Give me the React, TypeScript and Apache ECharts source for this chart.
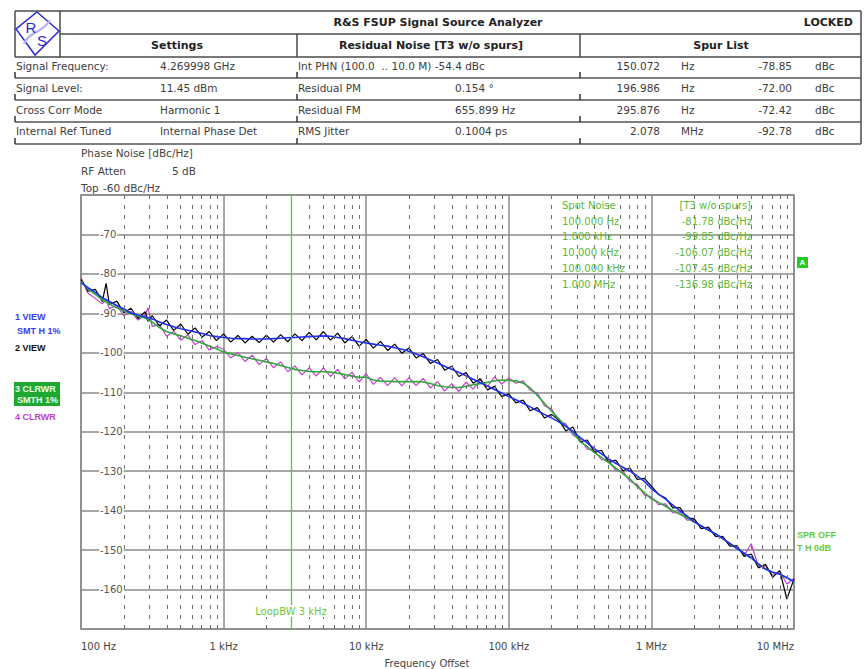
import React, { useEffect, useRef } from 'react';
import * as echarts from 'echarts';

// ---------- trace data ----------
// Frequency grid of the smoothed traces (Hz)
const freqSmooth = [
  100, 112, 126, 141, 158, 178, 200, 224, 251, 282, 316, 355, 398, 447, 501, 562, 631, 708, 794, 891,
  1000, 1122, 1259, 1413, 1585, 1778, 1995, 2239, 2512, 2818, 3162, 3548, 3981, 4467, 5012, 5623, 6310, 7079, 7943, 8913,
  10000, 11220, 12590, 14130, 15850, 17780, 19950, 22390, 25120, 28180, 31620, 35480, 39810, 44670, 50120, 56230, 63100, 70790, 79430, 89130,
  100000, 112200, 125900, 141300, 158500, 177800, 199500, 223900, 251200, 281800, 316200, 354800, 398100, 446700, 501200, 562300, 631000, 707900, 794300, 891300,
  1000000, 1122000, 1259000, 1413000, 1585000, 1778000, 1995000, 2239000, 2512000, 2818000, 3162000, 3548000, 3981000, 4467000, 5012000, 5623000, 6310000, 7079000, 7943000, 8913000, 10000000,
];

// Frequency grid of the raw traces (includes the spur frequencies)
const freqRaw = [
  100, 112, 126, 141, 150, 158, 178, 200, 224, 251, 282, 295, 316, 355, 398, 447, 501, 562, 631, 708, 794, 891,
  1000, 1122, 1259, 1413, 1585, 1778, 1995, 2239, 2512, 2818, 3162, 3548, 3981, 4467, 5012, 5623, 6310, 7079, 7943, 8913,
  10000, 11220, 12590, 14130, 15850, 17780, 19950, 22390, 25120, 28180, 31620, 35480, 39810, 44670, 50120, 56230, 63100, 70790, 79430, 89130,
  100000, 112200, 125900, 141300, 158500, 177800, 199500, 223900, 251200, 281800, 316200, 354800, 398100, 446700, 501200, 562300, 631000, 707900, 794300, 891300,
  1000000, 1122000, 1259000, 1413000, 1585000, 1778000, 1995000, 2239000, 2512000, 2818000, 3162000, 3548000, 3981000, 4467000, 5012000, 5623000, 6310000, 7079000, 7943000, 8913000, 10000000,
];

// Trace 1: VIEW, smoothed 1 %
const trace1 = [
  -82.2, -83.5, -84.7, -86.0, -87.0, -88.0, -88.9, -89.9, -90.4, -90.9, -91.4, -92.2, -92.8, -93.4, -93.9, -94.3, -94.7, -95.1, -95.6, -95.9,
  -96.1, -96.3, -96.4, -96.4, -96.5, -96.5, -96.5, -96.4, -96.3, -96.2, -96.1, -96.0, -95.9, -95.8, -95.7, -95.8, -96.1, -96.4, -96.8, -97.2,
  -97.5, -97.8, -98.1, -98.3, -98.7, -99.1, -99.6, -100.3, -101.0, -101.8, -102.6, -103.4, -104.2, -105.0, -105.8, -106.7, -107.6, -108.4, -109.3, -110.2,
  -111.1, -111.9, -112.8, -113.7, -114.7, -115.6, -116.5, -117.5, -118.6, -119.9, -121.5, -122.8, -124.3, -125.6, -126.9, -128.0, -129.0, -130.0, -131.2, -132.6,
  -134.4, -135.8, -137.1, -138.6, -140.0, -141.4, -142.8, -143.9, -144.9, -145.9, -147.1, -148.3, -149.6, -150.8, -152.0, -153.5, -154.8, -155.6, -156.1, -157.0, -158.0,
];

// Trace 2: VIEW, raw
const trace2 = [
  -81.4, -84.4, -83.9, -87.0, -82.4, -87.8, -86.9, -89.8, -88.7, -91.3, -89.6, -92.0, -90.6, -93.2, -91.7, -94.3, -92.7, -95.3, -93.7, -96.0, -94.6, -96.9,
  -95.2, -97.3, -95.6, -97.5, -95.8, -97.4, -95.5, -97.3, -95.4, -97.2, -95.2, -96.9, -94.8, -96.7, -94.6, -96.8, -95.0, -97.5, -95.9, -98.3,
  -96.6, -98.8, -97.1, -99.4, -97.8, -100.1, -98.8, -101.3, -100.2, -102.7, -101.7, -104.4, -103.4, -106.0, -105.0, -107.7, -106.6, -109.4, -108.5, -111.1,
  -110.4, -112.7, -112.0, -114.7, -113.9, -116.5, -115.6, -117.0, -119.8, -118.8, -122.6, -122.1, -125.2, -124.7, -127.8, -127.2, -129.9, -129.2, -132.1, -131.8,
  -133.8, -135.9, -136.8, -139.3, -139.2, -141.9, -142.0, -144.6, -144.2, -146.5, -146.6, -149.0, -148.9, -151.6, -151.0, -154.5, -153.6, -156.9, -155.2, -162.4, -157.3,
];

// Trace 3: CLRWR, smoothed 1 %
const trace3 = [
  -81.9, -83.8, -85.2, -86.6, -87.6, -88.6, -89.4, -90.1, -90.7, -91.2, -92.2, -93.6, -94.6, -95.2, -95.7, -96.3, -96.9, -97.6, -98.3, -99.0,
  -99.8, -100.2, -100.7, -101.1, -101.5, -101.9, -102.3, -102.7, -103.2, -103.7, -104.2, -104.5, -104.7, -104.8, -104.8, -104.9, -105.2, -105.5, -105.9, -106.2,
  -106.2, -106.9, -107.2, -107.2, -107.3, -107.3, -107.3, -107.3, -107.4, -107.8, -108.3, -108.6, -108.8, -108.8, -108.5, -108.1, -107.8, -107.5, -107.1, -106.9,
  -107.0, -107.1, -107.7, -108.9, -110.8, -112.8, -114.8, -116.7, -118.6, -120.2, -122.5, -123.8, -125.3, -126.5, -127.8, -129.2, -130.6, -132.0, -133.9, -135.4,
  -137.0, -137.9, -138.9, -140.0, -140.9, -141.8, -142.9, -143.9, -144.9, -145.9, -147.1, -148.3, -149.6, -150.8, -152.0, -153.5, -154.8, -155.6, -156.1, -157.0, -158.0,
];

// Trace 4: CLRWR, raw
const trace4 = [
  -80.9, -84.9, -86.2, -87.6, -86.4, -88.8, -88.0, -90.6, -89.5, -91.7, -90.4, -88.6, -93.3, -92.8, -95.8, -94.5, -96.8, -95.5, -97.9, -96.9, -99.3, -98.4,
  -99.1, -101.3, -99.9, -102.2, -100.6, -103.0, -101.4, -103.8, -102.3, -104.8, -103.3, -105.6, -103.8, -105.9, -103.8, -106.0, -104.2, -106.6, -104.9, -107.4,
  -105.3, -108.0, -106.2, -108.3, -106.3, -108.4, -106.3, -108.3, -106.5, -108.9, -107.3, -109.7, -107.8, -109.8, -107.4, -109.2, -106.8, -108.6, -106.1, -107.9,
  -106.4, -107.7, -107.1, -109.5, -110.2, -113.4, -114.2, -117.3, -118.0, -120.8, -121.9, -124.4, -124.7, -127.1, -127.2, -129.8, -130.0, -132.6, -133.3, -136.0,
  -136.5, -138.5, -138.3, -140.6, -140.3, -142.4, -142.3, -144.5, -144.3, -146.5, -146.5, -148.9, -149.0, -151.4, -148.4, -154.1, -154.0, -156.4, -155.3, -158.6, -157.2,
];

// ---------- axes ----------
const xTickValues = [100, 1000, 10000, 100000, 1000000, 10000000];
const xTickLabels = ['100 Hz', '1 kHz', '10 kHz', '100 kHz', '1 MHz', '10 MHz'];
const minorDecades = [100, 1000, 10000, 100000, 1000000];
const minorMantissas = [2, 3, 4, 5, 6, 7, 8, 9];
const loopBandwidth = 3000;

// ---------- header table ----------
const settingsLabels = ['Signal Frequency:', 'Signal Level:', 'Cross Corr Mode', 'Internal Ref Tuned'];
const settingsValues = ['4.269998 GHz', '11.45 dBm', 'Harmonic 1', 'Internal Phase Det'];
const residualLabels = ['Int PHN (100.0  .. 10.0 M) -54.4 dBc', 'Residual PM', 'Residual FM', 'RMS Jitter'];
const residualValues = ['', '0.154 °', '655.899 Hz', '0.1004 ps'];
const spurFreqs = ['150.072', '196.986', '295.876', '2.078'];
const spurUnits = ['Hz', 'Hz', 'Hz', 'MHz'];
const spurLevels = [-78.85, -72.0, -72.42, -92.78];

// ---------- spot noise ----------
const spotFreqs = ['100.000 Hz', '1.000 kHz', '10.000 kHz', '100.000 kHz', '1.000 MHz'];
const spotLevels = [-81.78, -99.85, -106.07, -107.45, -136.98];

const FONT = "'DejaVu Sans', Verdana, sans-serif";
const NARROW = "'Liberation Sans', Arial, sans-serif";
const SPOT_GREEN = '#5cb83a';

function txt(x: number, y: number, text: string, fill: string, font: string, align = 'left', extra: any = {}) {
  return {
    type: 'text',
    x,
    y,
    silent: true,
    z: 100,
    style: { text, fill, font, textAlign: align, textVerticalAlign: 'middle', align, verticalAlign: 'middle', ...extra },
  };
}

function ln(x1: number, y1: number, x2: number, y2: number, stroke = '#4a4a4a', lineWidth = 1.5) {
  return { type: 'line', silent: true, z: 100, shape: { x1, y1, x2, y2 }, style: { stroke, lineWidth } };
}

function buildHeader() {
  const els: any[] = [];
  const rowBottoms = [78, 100, 122, 144];
  const rowMid = [66, 88, 110, 131];
  // frame
  els.push(ln(15, 11, 861, 11));
  els.push(ln(861, 11, 861, 144));
  els.push(ln(15, 11, 15, 57));
  els.push(ln(60, 11, 60, 57));
  els.push(ln(60, 34, 861, 34));
  els.push(ln(15, 57, 861, 57));
  els.push(ln(297, 34, 297, 57));
  els.push(ln(580, 34, 580, 57));
  rowBottoms.forEach((y) => {
    els.push(ln(15, y, 861, y, '#555', 1.5));
    [15, 297, 580].forEach((x) => els.push(ln(x, y - 6, x, y, '#333', 1.5)));
  });
  // logo
  els.push({
    type: 'polygon', silent: true, z: 100,
    shape: { points: [[37, 12], [59, 31], [35, 55], [16, 29]] },
    style: { fill: 'none', stroke: '#2a2ad0', lineWidth: 1.5 },
  });
  els.push({
    type: 'bezierCurve', silent: true, z: 100,
    shape: { x1: 24, y1: 44, x2: 50, y2: 20, cpx1: 30, cpy1: 30, cpx2: 42, cpy2: 34 },
    style: { stroke: '#b8b8ee', lineWidth: 2.5, fill: 'none' },
  });
  els.push(txt(31, 27, 'R', '#2a2ad0', `15px ${NARROW}`, 'center'));
  els.push(txt(42, 40, 'S', '#2a2ad0', `15px ${NARROW}`, 'center'));
  // titles
  els.push(txt(438, 22, 'R&S FSUP Signal Source Analyzer', '#222', `bold 11px ${FONT}`, 'center'));
  els.push(txt(853, 22, 'LOCKED', '#222', `bold 11px ${FONT}`, 'right'));
  els.push(txt(177, 45, 'Settings', '#222', `bold 11px ${FONT}`, 'center'));
  els.push(txt(431, 45, 'Residual Noise [T3 w/o spurs]', '#222', `bold 11px ${FONT}`, 'center'));
  els.push(txt(721, 45, 'Spur List', '#222', `bold 11px ${FONT}`, 'center'));
  const f = `10.5px ${FONT}`;
  const c = '#3c3c3c';
  rowMid.forEach((y, i) => {
    els.push(txt(16, y, settingsLabels[i], c, f));
    els.push(txt(160, y, settingsValues[i], c, f));
    els.push(txt(298, y, residualLabels[i], c, f));
    if (residualValues[i]) els.push(txt(455, y, residualValues[i], c, f));
    els.push(txt(660, y, spurFreqs[i], c, f, 'right'));
    els.push(txt(681, y, spurUnits[i], c, f));
    els.push(txt(792, y, spurLevels[i].toFixed(2), c, f, 'right'));
    els.push(txt(815, y, 'dBc', c, f));
  });
  return els;
}

function buildOverlay() {
  const els: any[] = [];
  const g = '#444';
  const f = `10.5px ${FONT}`;
  els.push(txt(81, 153, 'Phase Noise [dBc/Hz]', g, f));
  els.push(txt(81, 171, 'RF Atten', g, f));
  els.push(txt(172, 171, '5 dB', g, f));
  els.push(txt(81, 188, 'Top', g, f));
  els.push(txt(103, 188, '-60 dBc/Hz', g, f));
  // trace legend on the left
  els.push(txt(15, 317, '1 VIEW', '#3a3af0', `bold 9px ${NARROW}`));
  els.push(txt(17, 331, 'SMT H 1%', '#3a3af0', `bold 9px ${NARROW}`));
  els.push(txt(15, 348, '2 VIEW', '#111', `bold 9px ${NARROW}`));
  els.push({ type: 'rect', silent: true, z: 99, shape: { x: 14, y: 382, width: 46, height: 24 }, style: { fill: '#1ea832' } });
  els.push(txt(15, 389, '3 CLRWR', '#e8ffe8', `bold 9px ${NARROW}`));
  els.push(txt(17, 400, 'SMTH 1%', '#e8ffe8', `bold 9px ${NARROW}`));
  els.push(txt(15, 417, '4 CLRWR', '#c040c8', `bold 9px ${NARROW}`));
  // right side markers
  els.push({ type: 'rect', silent: true, z: 99, shape: { x: 797, y: 257, width: 11, height: 11 }, style: { fill: '#22cc22' } });
  els.push(txt(802.5, 262.5, 'A', '#fff', `bold 8px ${NARROW}`, 'center'));
  els.push(txt(797, 535, 'SPR OFF', '#66cc33', `bold 9px ${NARROW}`));
  els.push(txt(797, 548, 'T H 0dB', '#66cc33', `bold 9px ${NARROW}`));
  // spot noise table
  const sf = `10px ${FONT}`;
  els.push(txt(562, 205, 'Spot Noise', SPOT_GREEN, sf));
  els.push(txt(751, 205, '[T3 w/o spurs]', SPOT_GREEN, sf, 'right'));
  spotFreqs.forEach((s, i) => {
    const y = 221 + i * 15.8;
    els.push(txt(562, y, s, SPOT_GREEN, sf));
    els.push(txt(752, y, `${spotLevels[i].toFixed(2)} dBc/Hz`, SPOT_GREEN, sf, 'right'));
  });
  // loop bandwidth caption
  els.push(txt(291, 611, 'LoopBW 3 kHz', '#6cc83a', `10px ${FONT}`, 'center', { backgroundColor: '#fff', padding: [1, 1] }));
  // x axis title
  els.push(txt(427, 663, 'Frequency Offset', '#444', `10px ${FONT}`, 'center'));
  return els;
}

function pairs(xs: number[], ys: number[]) {
  return ys.map((v, i) => [xs[i], v]);
}

export default function App() {
  const ref = useRef<HTMLDivElement>(null);

  useEffect(() => {
    if (!ref.current) return;
    const chart = echarts.init(ref.current, null, { renderer: 'svg' });

    const minorFreqs: number[] = [];
    minorDecades.forEach((d) => minorMantissas.forEach((m) => minorFreqs.push(d * m)));

    const xLabel = (v: number) => {
      const i = xTickValues.findIndex((t) => Math.abs(v - t) / t < 1e-6);
      return i >= 0 ? xTickLabels[i] : '';
    };

    const option: any = {
      animation: false,
      backgroundColor: '#fff',
      textStyle: { fontFamily: FONT },
      grid: {
        left: 81, right: 70, top: 195, bottom: 40,
        show: true, borderColor: '#8a8a8a', borderWidth: 1.5, backgroundColor: 'transparent',
      },
      xAxis: {
        type: 'log', logBase: 10, min: 100, max: 10000000,
        axisLine: { show: false }, axisTick: { show: false },
        splitLine: { show: true, lineStyle: { color: '#8a8a8a', width: 1.5 } },
        axisLabel: {
          formatter: xLabel, color: '#444', fontSize: 10, fontFamily: FONT, margin: 12,
          showMinLabel: true, showMaxLabel: true, alignMinLabel: 'left', alignMaxLabel: 'right',
        },
      },
      yAxis: {
        type: 'value', min: -170, max: -60, interval: 10,
        axisLine: { show: false }, axisTick: { show: false },
        splitLine: { show: true, lineStyle: { color: '#8a8a8a', width: 1.5 } },
        axisLabel: {
          inside: true, margin: 18, color: '#555', fontSize: 10, fontFamily: FONT,
          backgroundColor: '#fff', padding: [0, 1],
          formatter: (v: number) => (v === -60 || v === -170 ? '' : String(v)),
        },
      },
      graphic: { elements: [...buildHeader(), ...buildOverlay()] },
      series: [
        {
          name: 'minor grid', type: 'line', data: [], z: 1, silent: true,
          markLine: {
            silent: true, symbol: ['none', 'none'], label: { show: false },
            lineStyle: { color: '#707070', type: [4, 6], width: 1 },
            data: minorFreqs.map((f) => ({ xAxis: f })),
          },
        },
        {
          name: 'loop bw', type: 'line', data: [], z: 1, silent: true,
          markLine: {
            silent: true, symbol: ['none', 'none'], label: { show: false },
            lineStyle: { color: '#3cd63c', type: 'solid', width: 1.3 },
            data: [{ xAxis: loopBandwidth }],
          },
        },
        {
          name: '4 CLRWR', type: 'line', data: pairs(freqRaw, trace4), showSymbol: false, z: 2,
          lineStyle: { color: '#c040c8', width: 1.2 },
        },
        {
          name: '2 VIEW', type: 'line', data: pairs(freqRaw, trace2), showSymbol: false, z: 2,
          lineStyle: { color: '#000', width: 1.2 },
        },
        {
          name: '3 CLRWR SMTH 1%', type: 'line', data: pairs(freqSmooth, trace3), showSymbol: false, z: 3,
          lineStyle: { color: '#2fa83a', width: 1.6 },
        },
        {
          name: '1 VIEW SMTH 1%', type: 'line', data: pairs(freqSmooth, trace1), showSymbol: false, z: 3,
          lineStyle: { color: '#1f2ff0', width: 1.6 },
        },
      ],
    };

    chart.setOption(option);
    return () => chart.dispose();
  }, []);

  return <div ref={ref} style={{ position: 'fixed', left: 0, top: 0, width: 864, height: 669 }} />;
}
